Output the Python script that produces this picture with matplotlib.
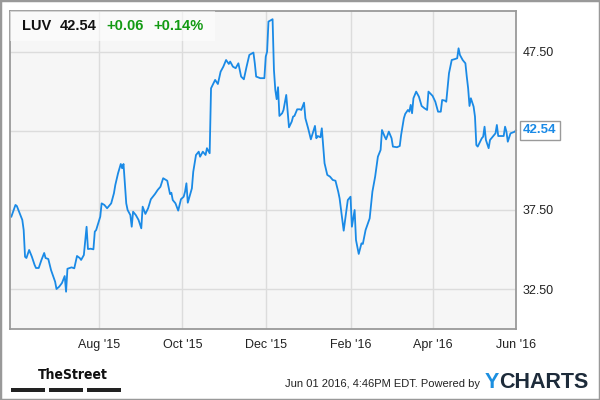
import pandas as pd
import matplotlib
matplotlib.use('Agg')
import matplotlib.pyplot as plt
from matplotlib.patches import Rectangle

plt.rcParams['font.family'] = ['Liberation Sans', 'DejaVu Sans']

# LUV daily close
dates = [
  '2015-05-29', '2015-06-01', '2015-06-02', '2015-06-04', '2015-06-06', '2015-06-07',
  '2015-06-08', '2015-06-09', '2015-06-11', '2015-06-13', '2015-06-15', '2015-06-16',
  '2015-06-18', '2015-06-20', '2015-06-22', '2015-06-23', '2015-06-25', '2015-06-27',
  '2015-06-29', '2015-06-30', '2015-07-01', '2015-07-03', '2015-07-05', '2015-07-07',
  '2015-07-08', '2015-07-09', '2015-07-12', '2015-07-14', '2015-07-16', '2015-07-18',
  '2015-07-19', '2015-07-21', '2015-07-23', '2015-07-24', '2015-07-26', '2015-07-28',
  '2015-07-29', '2015-07-30', '2015-08-02', '2015-08-03', '2015-08-05', '2015-08-07',
  '2015-08-09', '2015-08-10', '2015-08-12', '2015-08-13', '2015-08-15', '2015-08-17',
  '2015-08-18', '2015-08-19', '2015-08-21', '2015-08-22', '2015-08-24', '2015-08-25',
  '2015-08-26', '2015-08-28', '2015-08-30', '2015-09-01', '2015-09-02', '2015-09-04',
  '2015-09-06', '2015-09-08', '2015-09-11', '2015-09-13', '2015-09-15', '2015-09-17',
  '2015-09-20', '2015-09-22', '2015-09-23', '2015-09-24', '2015-09-26', '2015-09-28',
  '2015-09-30', '2015-10-02', '2015-10-03', '2015-10-04', '2015-10-05', '2015-10-08',
  '2015-10-09', '2015-10-11', '2015-10-13', '2015-10-14', '2015-10-16', '2015-10-18',
  '2015-10-19', '2015-10-21', '2015-10-22', '2015-10-25', '2015-10-27', '2015-10-29',
  '2015-10-31', '2015-11-02', '2015-11-04', '2015-11-05', '2015-11-07', '2015-11-09',
  '2015-11-11', '2015-11-13', '2015-11-15', '2015-11-17', '2015-11-19', '2015-11-22',
  '2015-11-23', '2015-11-24', '2015-11-27', '2015-11-30', '2015-12-01', '2015-12-02',
  '2015-12-03', '2015-12-06', '2015-12-07', '2015-12-08', '2015-12-09', '2015-12-10',
  '2015-12-11', '2015-12-13', '2015-12-14', '2015-12-16', '2015-12-18', '2015-12-20',
  '2015-12-21', '2015-12-22', '2015-12-24', '2015-12-26', '2015-12-27', '2015-12-29',
  '2015-12-30', '2016-01-01', '2016-01-03', '2016-01-06', '2016-01-07', '2016-01-08',
  '2016-01-10', '2016-01-11', '2016-01-13', '2016-01-15', '2016-01-17', '2016-01-19',
  '2016-01-21', '2016-01-23', '2016-01-24', '2016-01-27', '2016-01-29', '2016-01-30',
  '2016-02-01', '2016-02-02', '2016-02-04', '2016-02-05', '2016-02-07', '2016-02-09',
  '2016-02-10', '2016-02-12', '2016-02-15', '2016-02-17', '2016-02-19', '2016-02-21',
  '2016-02-23', '2016-02-24', '2016-02-26', '2016-02-27', '2016-02-29', '2016-03-02',
  '2016-03-03', '2016-03-06', '2016-03-08', '2016-03-09', '2016-03-11', '2016-03-12',
  '2016-03-14', '2016-03-15', '2016-03-16', '2016-03-17', '2016-03-18', '2016-03-20',
  '2016-03-22', '2016-03-24', '2016-03-26', '2016-03-28', '2016-03-29', '2016-04-01',
  '2016-04-03', '2016-04-05', '2016-04-07', '2016-04-08', '2016-04-10', '2016-04-11',
  '2016-04-13', '2016-04-15', '2016-04-17', '2016-04-19', '2016-04-20', '2016-04-21',
  '2016-04-23', '2016-04-25', '2016-04-26', '2016-04-27', '2016-04-28', '2016-04-29',
  '2016-05-01', '2016-05-02', '2016-05-03', '2016-05-04', '2016-05-07', '2016-05-08',
  '2016-05-09', '2016-05-10', '2016-05-12', '2016-05-13', '2016-05-15', '2016-05-17',
  '2016-05-18', '2016-05-19', '2016-05-22', '2016-05-23', '2016-05-24', '2016-05-25',
  '2016-05-26', '2016-05-28', '2016-05-31', '2016-06-01',
]
prices = [
  37.08, 37.82, 37.75, 37.31, 36.87, 36.23,
  34.54, 34.46, 34.97, 34.54, 34.02, 33.83,
  33.83, 34.34, 34.78, 34.46, 34.40, 33.70,
  33.20, 32.96, 32.50, 32.65, 32.88, 33.32,
  32.33, 33.78, 33.87, 33.81, 34.59, 34.46,
  34.34, 34.65, 36.44, 35.03, 35.05, 35.01,
  36.13, 36.23, 37.08, 37.92, 37.82, 37.61,
  37.82, 37.92, 38.56, 39.08, 39.82, 40.41,
  40.14, 40.41, 37.92, 37.50, 37.18, 36.44,
  37.39, 37.18, 36.87, 36.34, 37.71, 37.25,
  37.61, 38.18, 38.51, 38.77, 38.97, 39.51,
  39.35, 38.51, 38.59, 38.13, 37.92, 37.46,
  38.18, 38.34, 38.66, 39.19, 37.96, 38.87,
  39.92, 40.98, 41.19, 40.87, 41.19, 40.98,
  41.41, 41.09, 45.20, 45.73, 45.47, 46.25,
  46.57, 46.99, 46.74, 46.89, 46.57, 46.47,
  46.78, 45.94, 45.77, 46.57, 47.31, 47.46,
  46.78, 45.94, 45.84, 45.84, 47.20, 47.52,
  49.42, 49.57, 46.36, 45.09, 44.51, 45.27,
  43.45, 43.62, 43.83, 44.78, 42.73, 43.09,
  43.41, 43.45, 43.87, 43.87, 43.83, 44.29,
  43.30, 42.67, 41.97, 42.82, 42.04, 42.18,
  42.10, 42.67, 40.46, 39.72, 39.61, 39.40,
  39.35, 38.66, 38.24, 36.19, 37.50, 38.13,
  38.34, 36.44, 37.50, 35.60, 34.72, 35.39,
  35.35, 36.23, 36.97, 38.66, 39.61, 40.87,
  41.30, 42.56, 42.14, 41.97, 42.46, 42.04,
  41.51, 41.47, 41.55, 42.25, 43.30, 43.58,
  43.83, 43.72, 44.15, 43.62, 44.57, 44.99,
  44.67, 44.08, 43.94, 43.83, 44.99, 44.72,
  44.35, 43.72, 43.72, 44.46, 44.42, 44.35,
  46.15, 46.99, 47.04, 47.10, 47.73, 47.31,
  46.99, 46.78, 45.94, 45.20, 44.08, 44.57,
  44.04, 43.41, 41.61, 41.51, 42.04, 42.14,
  42.77, 41.93, 41.41, 41.93, 42.14, 42.35,
  42.88, 42.18, 42.18, 42.18, 42.77, 42.46,
  41.82, 42.35, 42.45, 42.54,
]

ticker = 'LUV'
last_price = '42.54'
change = '+0.06'
change_pct = '+0.14%'

ytick_vals = [32.5, 37.5, 42.5, 47.5]
ytick_labels = ['32.50', '37.50', '', '47.50']
xtick_dates = ['2015-08-01', '2015-10-01', '2015-12-01', '2016-02-01', '2016-04-01', '2016-06-01']
xtick_labels = ["Aug '15", "Oct '15", "Dec '15", "Feb '16", "Apr '16", "Jun '16"]

blue = '#1a8ae6'
green = '#139a13'

x = pd.to_datetime(dates)

fig = plt.figure(figsize=(6, 4), dpi=100)
ax = fig.add_axes([10/600, 1 - 329/400, 506/600, 318/400])
ax.set_facecolor('#f6f6f6')
ax.plot(x, prices, color=blue, lw=1.3)

ax.set_xlim(pd.Timestamp('2015-05-28'), pd.Timestamp('2016-06-01'))
ax.set_ylim(29.97, 50.09)
ax.set_yticks(ytick_vals)
ax.set_yticklabels(ytick_labels)
ax.yaxis.tick_right()
ax.set_xticks(pd.to_datetime(xtick_dates))
ax.set_xticklabels(xtick_labels)
ax.tick_params(length=0, labelsize=9, colors='#222222')
ax.tick_params(axis='y', pad=5)
ax.tick_params(axis='x', pad=7)
ax.grid(True, color='#dcdcdc', lw=1)
ax.set_axisbelow(True)
for s in ax.spines.values():
  s.set_color('#9a9a9a')
  s.set_linewidth(1.3)

# last price tag
ax.annotate(last_price, xy=(x[-1], prices[-1]), xytext=(1.014, prices[-1]),
            textcoords=('axes fraction', 'data'), ha='left', va='center',
            fontsize=9.5, fontweight='bold', color=blue, annotation_clip=False,
            bbox=dict(boxstyle='square,pad=0.25', fc='white', ec='#9a9a9a', lw=1),
            arrowprops=dict(arrowstyle='-', color='#9a9a9a', lw=1))

# header box
ax.add_patch(Rectangle((0, 0.906), 0.405, 0.094, transform=ax.transAxes,
                       fc='white', alpha=0.55, ec='none', zorder=5))
hy = 1 - 26/400
fig.text(22/600, hy, ticker, fontsize=10.5, fontweight='bold', color='#111111', va='center')
fig.text(60/600, hy, last_price, fontsize=10.5, fontweight='bold', color='#111111', va='center')
fig.text(106/600, hy, change, fontsize=10.5, fontweight='bold', color=green, va='center')
fig.text(153/600, hy, change_pct, fontsize=10.5, fontweight='bold', color=green, va='center')

# footer
fig.text(38/600, 1 - 375/400, 'TheStreet', fontsize=10, fontweight='bold',
         family='DejaVu Sans', fontstretch='condensed', color='#111111', va='center')
for bx in [10.7, 49, 87]:
  fig.patches.append(Rectangle((bx/600, 1 - 392/400), 34/600, 4/400,
                               transform=fig.transFigure, fc='#222222', ec='none'))
fig.text(480/600, 1 - 384/400, 'Jun 01 2016, 4:46PM EDT. Powered by', fontsize=8,
         color='#222222', ha='right', va='center')
fig.text(485/600, 1 - 382/400, 'Y', fontsize=15.5, fontweight='bold', color='#1b8fe0', va='center')
fig.text(499/600, 1 - 382/400, 'CHARTS', fontsize=15.5, fontweight='bold', color='#1d2b3a', va='center')

fig.patches.append(Rectangle((0, 0), 1, 1, transform=fig.transFigure, fill=False,
                             ec='#999999', lw=2.5))

fig.savefig('out.png', dpi=100)
